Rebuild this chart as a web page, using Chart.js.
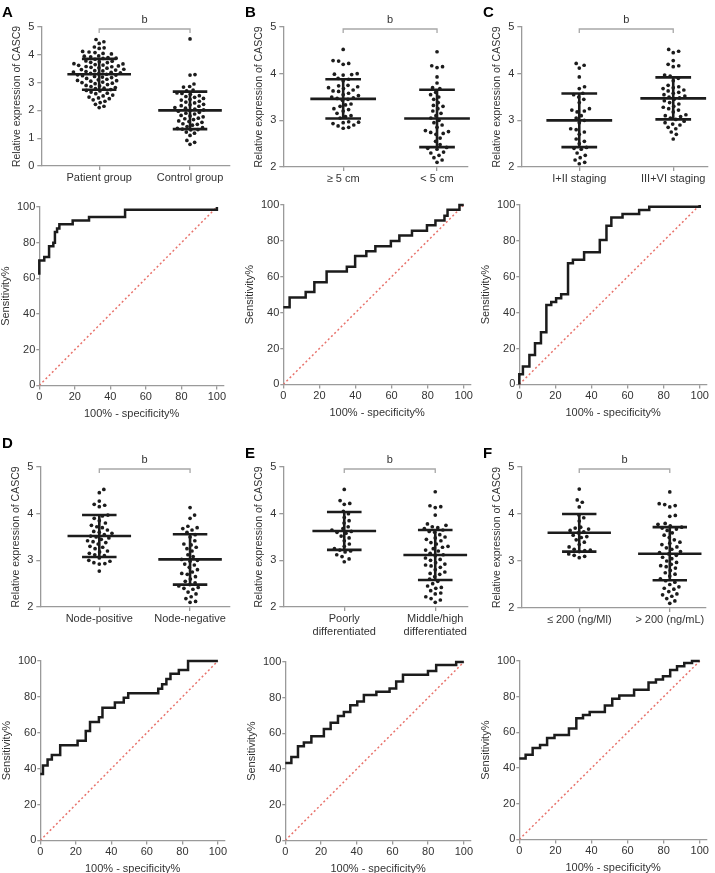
<!DOCTYPE html>
<html>
<head>
<meta charset="utf-8">
<script src="https://cdn.jsdelivr.net/npm/chart.js"></script>
<style>
body { margin: 0; background: #fff; }
#page { position: relative; width: 715px; height: 873px; overflow: hidden; }
#page canvas { position: absolute; }
.letter { position: absolute; font: bold 15px "Liberation Sans", Arial, sans-serif; color: #000; line-height: 15px; }
</style>
</head>
<body>
<div id="page"></div>
<script>

// ---------- DATA ----------

// A: patient vs control
let catsA = ['Patient group', 'Control group'];
let patientA = [4.55, 4.47, 4.41, 4.28, 4.25, 4.23, 4.12, 4.1,
4.08, 4.05, 4.03, 3.96, 3.95, 3.93, 3.9, 3.88, 3.87,
3.84, 3.78, 3.77, 3.75, 3.73, 3.72, 3.68, 3.67,
3.65, 3.63, 3.62, 3.6, 3.58, 3.57, 3.55, 3.53, 3.52,
3.48, 3.47, 3.45, 3.43, 3.42, 3.4, 3.38, 3.37,
3.35, 3.33, 3.32, 3.3, 3.28, 3.27, 3.25, 3.22, 3.2,
3.18, 3.15, 3.12, 3.1, 3.08, 3.07, 3.05, 3.02, 3.0,
2.98, 2.96, 2.93, 2.9, 2.88, 2.86, 2.82, 2.8, 2.78, 2.75,
2.72, 2.7, 2.66, 2.62, 2.6, 2.55, 2.52, 2.48, 2.45, 2.42,
2.38, 2.33, 2.28, 2.22, 2.15, 2.1];
let controlA = [4.57, 3.29, 3.27, 2.95, 2.86, 2.84, 2.73, 2.7, 2.63, 2.61,
2.58, 2.53, 2.5, 2.47, 2.43, 2.4, 2.37, 2.33, 2.3, 2.27,
2.22, 2.2, 2.17, 2.15, 2.1, 2.08, 2.05, 2.02, 2.0, 1.97,
1.93, 1.9, 1.87, 1.82, 1.8, 1.77, 1.72, 1.7, 1.67, 1.62,
1.6, 1.57, 1.52, 1.5, 1.47, 1.42, 1.38, 1.35, 1.33, 1.31,
1.3, 1.22, 1.18, 1.1, 0.92, 0.85, 0.78];
let meanA = [3.3, 2.0];
let sdA = [0.555, 0.675];

// B: tumour size
let catsB = ['\u2265 5 cm', '< 5 cm'];
let bigB = [4.52, 4.28, 4.27, 4.22, 4.2, 4.0, 3.99, 3.98, 3.97, 3.9,
3.88, 3.85, 3.75, 3.74, 3.72, 3.7, 3.68, 3.65, 3.63, 3.62,
3.58, 3.55, 3.53, 3.5, 3.48, 3.47, 3.45, 3.43, 3.35, 3.33,
3.3, 3.25, 3.23, 3.2, 3.15, 3.1, 3.08, 3.05, 2.97, 2.96,
2.95, 2.93, 2.9, 2.88, 2.85, 2.83];
let smallB = [4.47, 4.17, 4.15, 4.13, 3.93, 3.8, 3.7, 3.68, 3.6, 3.55,
3.5, 3.45, 3.38, 3.32, 3.3, 3.25, 3.2, 3.15, 3.1, 3.05,
3.0, 2.95, 2.9, 2.85, 2.78, 2.76, 2.74, 2.72, 2.7, 2.62,
2.55, 2.48, 2.42, 2.4, 2.38, 2.32, 2.3, 2.25, 2.2, 2.15, 2.1];
let meanB = [3.46, 3.04];
let sdB = [0.42, 0.615];

// C: staging
let catsC = ['I+II staging', 'III+VI staging'];
let earlyC = [4.22, 4.18, 4.12, 3.93, 3.72, 3.68, 3.58, 3.55, 3.5, 3.45,
3.38, 3.25, 3.22, 3.2, 3.18, 3.1, 3.05, 3.0, 2.95, 2.82,
2.8, 2.75, 2.7, 2.6, 2.55, 2.5, 2.42, 2.4, 2.38, 2.3,
2.25, 2.2, 2.15, 2.1, 2.07];
let lateC = [4.52, 4.48, 4.45, 4.28, 4.2, 4.17, 4.15, 3.97, 3.95, 3.9,
3.85, 3.75, 3.72, 3.7, 3.68, 3.65, 3.63, 3.6, 3.58, 3.55,
3.52, 3.5, 3.48, 3.45, 3.42, 3.38, 3.35, 3.3, 3.28, 3.25,
3.22, 3.18, 3.12, 3.1, 3.08, 3.05, 3.02, 2.98, 2.95, 2.92,
2.9, 2.85, 2.82, 2.75, 2.7, 2.6];
let meanC = [3.0, 3.47];
let sdC = [0.575, 0.45];

// D: lymph node
let catsD = ['Node-positive', 'Node-negative'];
let posD = [4.52, 4.45, 4.27, 4.2, 4.18, 4.15, 3.97, 3.95, 3.9, 3.85,
3.8, 3.75, 3.72, 3.7, 3.65, 3.62, 3.6, 3.58, 3.55, 3.52,
3.5, 3.48, 3.45, 3.42, 3.4, 3.38, 3.35, 3.3, 3.28, 3.25,
3.2, 3.18, 3.15, 3.12, 3.1, 3.05, 3.0, 2.98, 2.95, 2.93,
2.92, 2.77];
let negD = [4.13, 3.97, 3.9, 3.73, 3.7, 3.68, 3.65, 3.6, 3.55, 3.5,
3.42, 3.35, 3.33, 3.28, 3.25, 3.2, 3.12, 3.08, 3.02, 3.0,
2.98, 2.92, 2.9, 2.85, 2.8, 2.75, 2.72, 2.7, 2.65, 2.6,
2.55, 2.52, 2.48, 2.45, 2.42, 2.4, 2.38, 2.32, 2.28, 2.22,
2.18, 2.12, 2.1];
let meanD = [3.52, 3.02];
let sdD = [0.45, 0.54];

// E: differentiation
let catsE = [['Poorly', 'differentiated'], ['Middle/high', 'differentiated']];
let poorE = [4.52, 4.28, 4.22, 4.2, 4.05, 4.0, 3.92, 3.85, 3.8, 3.72,
3.68, 3.65, 3.62, 3.6, 3.58, 3.52, 3.48, 3.42, 3.35, 3.3,
3.25, 3.22, 3.2, 3.18, 3.12, 3.08, 3.03, 2.97];
let midE = [4.47, 4.17, 4.15, 4.13, 3.97, 3.78, 3.75, 3.72, 3.7, 3.68,
3.65, 3.62, 3.6, 3.55, 3.5, 3.48, 3.45, 3.42, 3.38, 3.35,
3.3, 3.28, 3.25, 3.22, 3.2, 3.15, 3.12, 3.1, 3.05, 3.02,
3.0, 2.95, 2.92, 2.9, 2.88, 2.85, 2.8, 2.75, 2.72, 2.7,
2.65, 2.6, 2.55, 2.5, 2.45, 2.42, 2.4, 2.35, 2.3, 2.28,
2.22, 2.18, 2.15, 2.1];
let meanE = [3.63, 3.115];
let sdE = [0.405, 0.535];

// F: AFP
let catsF = ['\u2264 200 (ng/Ml)', '> 200 (ng/mL)'];
let lowF = [4.53, 4.3, 4.25, 4.15, 3.98, 3.92, 3.85, 3.72, 3.7, 3.68,
3.65, 3.62, 3.6, 3.55, 3.52, 3.5, 3.45, 3.4, 3.35, 3.3,
3.25, 3.23, 3.22, 3.2, 3.15, 3.12, 3.1, 3.07];
let highF = [4.47, 4.22, 4.2, 4.18, 4.15, 3.97, 3.95, 3.8, 3.78, 3.75,
3.72, 3.7, 3.68, 3.65, 3.6, 3.55, 3.5, 3.45, 3.4, 3.38,
3.35, 3.3, 3.28, 3.25, 3.2, 3.18, 3.15, 3.12, 3.08, 3.05,
3.0, 2.97, 2.93, 2.9, 2.88, 2.85, 2.8, 2.75, 2.72, 2.68,
2.62, 2.58, 2.55, 2.5, 2.45, 2.42, 2.4, 2.35, 2.3, 2.28,
2.25, 2.2, 2.15, 2.1];
let meanF = [3.6, 3.155];
let sdF = [0.4, 0.565];

// ROC curves: x = 100% - specificity%, y = sensitivity% (level reached before x)
let rocAx = [0, 2.8, 5.5, 7.9, 8.8, 10, 11.3, 18.8, 28, 48.3, 100, 100];
let rocAy = [62, 70, 72, 78, 80, 86, 88, 90.4, 92.5, 94.4, 98.5, 100];

let rocBx = [0, 3.5, 12.4, 17.2, 24, 35.2, 39.8, 46, 51, 59.6, 64.3, 71.3, 79.6, 84.3, 89.3, 91, 97.6, 100];
let rocBy = [43, 43, 48.5, 51.5, 57, 63, 65.6, 71.6, 74.2, 77, 80, 83, 85.7, 88.7, 91.4, 94, 97.4, 100];

let rocCx = [0, 2, 5.6, 8.7, 12, 15, 17.7, 20.4, 23.2, 27, 29.7, 35.9, 44.6, 48.3, 51, 57.2, 66.4, 72, 100, 100];
let rocCy = [0, 5.6, 10, 16.4, 22.9, 29, 44.2, 46, 48, 50.2, 67.5, 69.5, 73.6, 80.5, 88.5, 93, 95, 97.2, 99, 100];

let rocDx = [0, 1.5, 4.1, 6.5, 11.2, 21, 25.6, 28, 33, 35, 42, 47, 49.5, 66.4, 68.6, 71, 73.3, 78, 83.2, 100];
let rocDy = [37, 37, 41.8, 45.1, 47.6, 53, 55.6, 61, 66, 68.7, 74, 76.9, 79.5, 82, 84.5, 87, 89.9, 92.9, 95, 100];

let rocEx = [0, 3.4, 7.1, 10.4, 14.6, 21.6, 25.4, 29.5, 32.8, 36.4, 40.3, 44, 51, 58.4, 62.1, 65.9, 79.9, 84.5, 95.7, 100];
let rocEy = [43.4, 43.4, 46.8, 52.8, 54.9, 58.4, 62.4, 66, 69.8, 72, 75.8, 77.9, 81.5, 83.3, 85.2, 89, 92.9, 95, 98.3, 100];

let rocFx = [0, 3.5, 7.4, 11.5, 15.4, 19.5, 27.5, 31.6, 35.3, 39, 47.4, 51.5, 55.4, 63.6, 71.6, 75.7, 79.6, 83.6, 87.4, 91.4, 95.7, 100];
let rocFy = [45.4, 45.4, 47.5, 51.2, 52.9, 56.8, 58.5, 62.2, 67.9, 69.7, 71.4, 75.1, 78.9, 80.7, 83.9, 87.9, 89.7, 91.4, 95, 97, 98.9, 100];

let rocTicks = [0, 20, 40, 60, 80, 100];


// ---------- DRAWING ----------

Chart.defaults.font.family = '"Liberation Sans", Arial, sans-serif';
Chart.defaults.font.size = 11;
Chart.defaults.color = '#333';

let axisGrey = '#9a9a9a';
let ink = '#1c1c1c';
let page = document.getElementById('page');

function addLetter(txt, x, y){
let d = document.createElement('div');
d.className = 'letter';
d.textContent = txt;
d.style.left = x + 'px';
d.style.top = y + 'px';
page.appendChild(d);
}

function addCanvas(left, top, w, h){
let c = document.createElement('canvas');
c.width = Math.round(w);
c.height = Math.round(h);
c.style.left = Math.round(left) + 'px';
c.style.top = Math.round(top) + 'px';
page.appendChild(c);
return c.getContext('2d');
}

// simple beeswarm: spread dots sideways so they do not overlap
function swarm(values, center, pxX, pxY, d){
let placed = [];
let out = [];
let order = values.map((v, i) => i).sort((a, b) => values[a] - values[b]);
order.forEach(i => {
let py = values[i] * pxY;
let cands = [0];
placed.forEach(p => {
let dy = Math.abs(p.y - py);
if(dy < d){
let dx = Math.sqrt(d * d - dy * dy);
cands.push(p.x + dx, p.x - dx);
}
});
cands.sort((a, b) => Math.abs(a) - Math.abs(b));
let px = cands.find(c => placed.every(p => (p.x - c) * (p.x - c) + (p.y - py) * (p.y - py) >= d * d - 0.01));
placed.push({x: px, y: py});
out[i] = {x: center + px / pxX, y: values[i]};
});
return out;
}

// mean line + SD whiskers, gaps between segments
function summaryLines(means, sds){
let pts = [];
means.forEach((m, i) => {
let c = i + 1, s = sds[i];
pts.push({x: c - 0.35, y: m}, {x: c + 0.35, y: m}, {x: c, y: null});
pts.push({x: c - 0.19, y: m + s}, {x: c + 0.19, y: m + s}, {x: c, y: null});
pts.push({x: c - 0.19, y: m - s}, {x: c + 0.19, y: m - s}, {x: c, y: null});
pts.push({x: c, y: m - s}, {x: c, y: m + s}, {x: c, y: null});
});
return pts;
}

// significance bracket with "b"
let bracketPlugin = {
id: 'bracket',
afterDraw(chart){
let ctx = chart.ctx;
let xs = chart.scales.x, ys = chart.scales.y;
let x1 = xs.getPixelForValue(1), x2 = xs.getPixelForValue(2);
let y = ys.top + 2;
ctx.save();
ctx.strokeStyle = '#a8a8a8';
ctx.lineWidth = 1.3;
ctx.beginPath();
ctx.moveTo(x1, y + 4); ctx.lineTo(x1, y); ctx.lineTo(x2, y); ctx.lineTo(x2, y + 4);
ctx.stroke();
ctx.fillStyle = '#333';
ctx.font = '11px "Liberation Sans", Arial, sans-serif';
ctx.textAlign = 'center';
ctx.textBaseline = 'middle';
ctx.fillText('b', (x1 + x2) / 2, ys.top - 7);
ctx.restore();
}
};

function gridOpts(len){
return {drawOnChartArea: false, drawTicks: true, tickLength: len, color: axisGrey, lineWidth: 1.3};
}

function dotPlot(cats, g1, g2, means, sds, box){
let yw = 30.3, xh = 36, padTop = 26, padR = 4;
let gap = box.gap || 5.6;
let ctx = addCanvas(box.L - yw, box.T - padTop, yw + (box.R - box.L) + padR, padTop + (box.B - box.T) + xh);
let pxX = (box.R - box.L) / (box.xmax - box.xmin);
let pxY = (box.B - box.T) / (box.ymax - box.ymin);

new Chart(ctx, {
type: 'scatter',
data: {
datasets: [
{data: summaryLines(means, sds), showLine: true, borderColor: ink, borderWidth: 2.6, pointRadius: 0, clip: false},
{data: swarm(g1, 1, pxX, pxY, gap), pointRadius: 1.85, pointBackgroundColor: ink, pointBorderWidth: 0, clip: false},
{data: swarm(g2, 2, pxX, pxY, gap), pointRadius: 1.85, pointBackgroundColor: ink, pointBorderWidth: 0, clip: false}
]
},
options: {
responsive: false,
animation: false,
events: [],
layout: {padding: {top: padTop, right: padR, left: 0, bottom: 0}},
plugins: {legend: {display: false}, tooltip: {enabled: false}},
scales: {
x: {
type: 'linear', min: box.xmin, max: box.xmax,
afterBuildTicks: s => { s.ticks = [{value: 1}, {value: 2}]; },
afterFit: s => { s.height = xh; },
ticks: {callback: v => cats[Math.round(v) - 1], autoSkip: false, maxRotation: 0, minRotation: 0, padding: 1},
grid: gridOpts(4),
border: {color: axisGrey, width: 1.3}
},
y: {
min: box.ymin, max: box.ymax,
afterFit: s => { s.width = yw; },
ticks: {stepSize: 1, padding: 3},
grid: gridOpts(4),
border: {color: axisGrey, width: 1.3},
title: {display: true, text: 'Relative expression of CASC9', font: {size: 10.5}, padding: 0}
}
}
},
plugins: [bracketPlugin]
});
}

function rocPlot(xs, ys, box){
let yw = 40.3, xh = 35.6, padTop = 8, padR = 10;
let xmax = 104;
let R = box.L + (box.x100 - box.L) * xmax / 100;
let ctx = addCanvas(box.L - yw, box.T - padTop, yw + (R - box.L) + padR, padTop + (box.B - box.T) + xh);
let pts = xs.map((x, i) => ({x: x, y: ys[i]}));

new Chart(ctx, {
type: 'scatter',
data: {
datasets: [
{data: pts, showLine: true, stepped: 'after', borderColor: ink, borderWidth: 2.5, pointRadius: 0, clip: false},
{data: [{x: 0, y: 0}, {x: 100, y: 100}], showLine: true, borderColor: '#e8736c', borderWidth: 1.5, borderDash: [2, 2.5], pointRadius: 0}
]
},
options: {
responsive: false,
animation: false,
events: [],
layout: {padding: {top: padTop, right: padR, left: 0, bottom: 0}},
plugins: {legend: {display: false}, tooltip: {enabled: false}},
scales: {
x: {
min: 0, max: xmax,
afterBuildTicks: s => { s.ticks = rocTicks.map(v => ({value: v})); },
afterFit: s => { s.height = xh; },
ticks: {autoSkip: false, maxRotation: 0, minRotation: 0, padding: 1},
grid: gridOpts(4),
border: {color: axisGrey, width: 1.3},
title: {display: true, text: '100% - specificity%', padding: 0}
},
y: {
min: 0, max: 100,
afterBuildTicks: s => { s.ticks = rocTicks.map(v => ({value: v})); },
afterFit: s => { s.width = yw; },
ticks: {padding: 1},
grid: gridOpts(3),
border: {color: axisGrey, width: 1.3},
title: {display: true, text: 'Sensitivity%', padding: 0}
}
}
}
});
}

// row 1
dotPlot(catsA, patientA, controlA, meanA, sdA, {L: 41, T: 27, R: 230, B: 166, xmin: 0.363, xmax: 2.44, ymin: 0, ymax: 5, gap: 5});
dotPlot(catsB, bigB, smallB, meanB, sdB, {L: 283, T: 27, R: 468, B: 167, xmin: 0.362, xmax: 2.33, ymin: 2, ymax: 5});
dotPlot(catsC, earlyC, lateC, meanC, sdC, {L: 521, T: 27, R: 708, B: 167, xmin: 0.383, xmax: 2.37, ymin: 2, ymax: 5});

// row 2
rocPlot(rocAx, rocAy, {L: 39, T: 207, B: 385, x100: 217});
rocPlot(rocBx, rocBy, {L: 283, T: 205, B: 384, x100: 463});
rocPlot(rocCx, rocCy, {L: 519, T: 205, B: 384, x100: 699});

// row 3
dotPlot(catsD, posD, negD, meanD, sdD, {L: 40, T: 467, R: 230, B: 607, xmin: 0.35, xmax: 2.44, ymin: 2, ymax: 5});
dotPlot(catsE, poorE, midE, meanE, sdE, {L: 283, T: 467, R: 468, B: 607, xmin: 0.33, xmax: 2.36, ymin: 2, ymax: 5});
dotPlot(catsF, lowF, highF, meanF, sdF, {L: 521, T: 467, R: 706, B: 608, xmin: 0.36, xmax: 2.4, ymin: 2, ymax: 5});

// row 4
rocPlot(rocDx, rocDy, {L: 40, T: 661, B: 840, x100: 218});
rocPlot(rocEx, rocEy, {L: 285, T: 662, B: 840, x100: 464});
rocPlot(rocFx, rocFy, {L: 519, T: 661, B: 839, x100: 699});

addLetter('A', 2, 4);
addLetter('B', 245, 4);
addLetter('C', 483, 4);
addLetter('D', 2, 435);
addLetter('E', 245, 445);
addLetter('F', 483, 445);

</script>
</body>
</html>
